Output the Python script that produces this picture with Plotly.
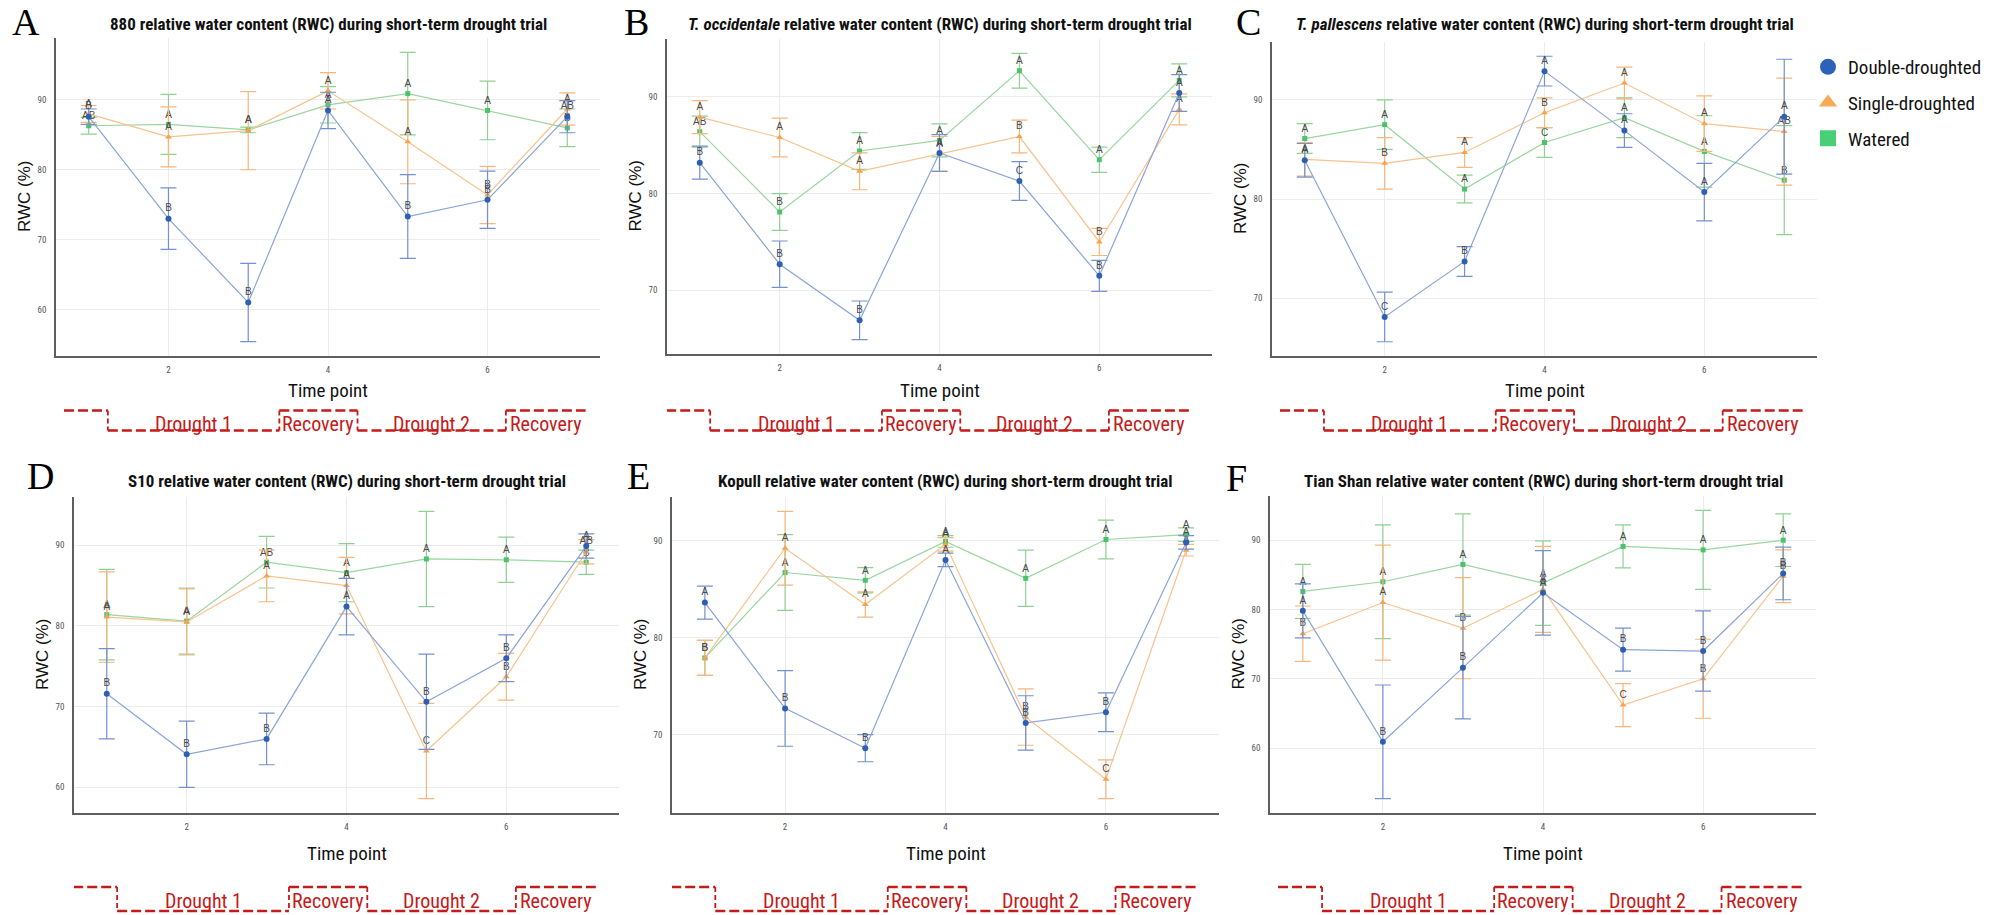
import plotly.graph_objects as go

W, H = 1993, 915

time_points = [1, 2, 3, 4, 5, 6, 7]
treatments = ["Double-droughted", "Single-droughted", "Watered"]

# ---------------- Panel A : 880 ----------------
a_double_mean = [87.6, 73.0, 61.0, 88.5, 73.3, 75.7, 87.6]
a_double_se = [1.1, 4.4, 5.6, 2.6, 6.0, 4.1, 2.3]
a_double_letters = ["B", "B", "B", "A", "B", "B", "AB"]
a_single_mean = [88.0, 84.7, 85.6, 91.3, 84.0, 76.4, 88.7]
a_single_se = [1.2, 4.3, 5.6, 2.6, 6.0, 4.1, 2.3]
a_single_letters = ["A", "A", "A", "A", "A", "B", "A"]
a_watered_mean = [86.3, 86.5, 85.7, 89.3, 90.9, 88.5, 86.0]
a_watered_se = [1.2, 4.3, 0.4, 2.6, 5.9, 4.2, 2.7]
a_watered_letters = ["AB", "A", "A", "A", "A", "A", "B"]

# ---------------- Panel B : T. occidentale ----------------
b_double_mean = [83.2, 72.7, 66.9, 84.2, 81.3, 71.5, 90.4]
b_double_se = [1.7, 2.4, 2.0, 1.9, 2.0, 1.6, 1.9]
b_double_letters = ["B", "B", "B", "A", "C", "B", "A"]
b_single_mean = [87.9, 85.8, 82.3, 84.1, 85.9, 75.0, 88.7]
b_single_se = [1.7, 2.0, 1.9, 1.8, 1.7, 1.4, 1.6]
b_single_letters = ["A", "A", "A", "A", "B", "B", "A"]
b_watered_mean = [86.4, 78.1, 84.4, 85.5, 92.7, 83.5, 91.7]
b_watered_se = [1.6, 1.9, 1.9, 1.7, 1.8, 1.3, 1.7]
b_watered_letters = ["AB", "B", "A", "A", "A", "A", "A"]

# ---------------- Panel C : T. pallescens ----------------
c_double_mean = [83.9, 68.1, 73.7, 92.9, 86.9, 80.7, 88.3]
c_double_se = [1.7, 2.5, 1.5, 1.5, 1.7, 2.9, 5.8]
c_double_letters = ["A", "C", "B", "A", "A", "A", "A"]
c_single_mean = [84.0, 83.6, 84.7, 88.7, 91.7, 87.6, 86.8]
c_single_se = [1.7, 2.6, 1.5, 1.5, 1.6, 2.8, 5.4]
c_single_letters = ["A", "B", "A", "B", "A", "A", "AB"]
c_watered_mean = [86.1, 87.5, 81.0, 85.7, 88.2, 84.8, 81.9]
c_watered_se = [1.5, 2.5, 1.4, 1.5, 2.0, 3.6, 5.5]
c_watered_letters = ["A", "A", "A", "C", "A", "A", "B"]

# ---------------- Panel D : S10 ----------------
d_double_mean = [71.6, 64.1, 66.0, 82.4, 70.6, 76.0, 89.9]
d_double_se = [5.6, 4.1, 3.2, 3.5, 5.9, 2.9, 1.5]
d_double_letters = ["B", "B", "B", "A", "B", "B", "A"]
d_single_mean = [81.1, 80.5, 86.2, 85.0, 64.5, 73.7, 89.2]
d_single_se = [5.6, 4.1, 3.2, 3.5, 5.9, 2.9, 1.5]
d_single_letters = ["A", "A", "A", "A", "C", "B", "AB"]
d_watered_mean = [81.4, 80.6, 87.9, 86.6, 88.3, 88.2, 87.9]
d_watered_se = [5.6, 4.1, 3.2, 3.6, 5.9, 2.8, 1.5]
d_watered_letters = ["A", "A", "AB", "A", "A", "A", "B"]

# ---------------- Panel E : Kopull ----------------
e_double_mean = [83.6, 72.7, 68.6, 88.0, 71.2, 72.3, 89.8]
e_double_se = [1.7, 3.9, 1.4, 0.7, 2.8, 2.0, 0.7]
e_double_letters = ["A", "B", "B", "A", "B", "B", "A"]
e_single_mean = [77.9, 89.2, 83.4, 89.6, 71.8, 65.4, 89.0]
e_single_se = [1.8, 3.8, 1.3, 0.7, 2.9, 2.0, 0.6]
e_single_letters = ["B", "A", "A", "A", "B", "C", "A"]
e_watered_mean = [77.9, 86.7, 85.9, 89.9, 86.1, 90.1, 90.6]
e_watered_se = [1.8, 3.9, 1.3, 0.6, 2.9, 2.0, 0.7]
e_watered_letters = ["B", "A", "A", "A", "A", "A", "A"]

# ---------------- Panel F : Tian Shan ----------------
f_double_mean = [79.8, 60.9, 71.6, 82.4, 74.2, 74.0, 85.2]
f_double_se = [3.9, 8.2, 7.4, 6.1, 3.1, 5.8, 3.8]
f_double_letters = ["A", "B", "B", "A", "B", "B", "B"]
f_single_mean = [76.5, 81.0, 77.3, 82.9, 66.2, 70.0, 84.8]
f_single_se = [4.0, 8.3, 7.3, 6.2, 3.1, 5.7, 3.8]
f_single_letters = ["B", "A", "B", "A", "C", "B", "B"]
f_watered_mean = [82.6, 84.0, 86.5, 83.8, 89.1, 88.6, 90.0]
f_watered_se = [3.9, 8.2, 7.3, 6.1, 3.1, 5.7, 3.8]
f_watered_letters = ["A", "A", "A", "A", "A", "A", "A"]

panel_letters = ["A", "B", "C", "D", "E", "F"]
panel_titles = [
    "880 relative water content (RWC) during short-term drought trial",
    "<i>T. occidentale</i> relative water content (RWC) during short-term drought trial",
    "<i>T. pallescens</i> relative water content (RWC) during short-term drought trial",
    "S10 relative water content (RWC) during short-term drought trial",
    "Kopull relative water content (RWC) during short-term drought trial",
    "Tian Shan relative water content (RWC) during short-term drought trial",
]
phase_labels = ["Drought 1", "Recovery", "Drought 2", "Recovery"]

panel_data = [
    [(a_double_mean, a_double_se, a_double_letters), (a_single_mean, a_single_se, a_single_letters), (a_watered_mean, a_watered_se, a_watered_letters)],
    [(b_double_mean, b_double_se, b_double_letters), (b_single_mean, b_single_se, b_single_letters), (b_watered_mean, b_watered_se, b_watered_letters)],
    [(c_double_mean, c_double_se, c_double_letters), (c_single_mean, c_single_se, c_single_letters), (c_watered_mean, c_watered_se, c_watered_letters)],
    [(d_double_mean, d_double_se, d_double_letters), (d_single_mean, d_single_se, d_single_letters), (d_watered_mean, d_watered_se, d_watered_letters)],
    [(e_double_mean, e_double_se, e_double_letters), (e_single_mean, e_single_se, e_single_letters), (e_watered_mean, e_watered_se, e_watered_letters)],
    [(f_double_mean, f_double_se, f_double_letters), (f_single_mean, f_single_se, f_single_letters), (f_watered_mean, f_watered_se, f_watered_letters)],
]

# ---------------- styles / layout (pixels) ----------------
NARROW = "Liberation Sans Narrow, Arial Narrow, Roboto Condensed, Lato, sans-serif"
SANS = "Liberation Sans, Arial, sans-serif"
SERIF = "Liberation Serif, Times New Roman, serif"

styles = [
    dict(marker="#2f5fb3", line="#8ba4d8", err="#7391cc", symbol="circle", size=6, legend="#2d62ba"),
    dict(marker="#f7a24f", line="#f9c28d", err="#f6b67c", symbol="triangle-up", size=6, legend="#f9aa55"),
    dict(marker="#4cc26a", line="#9ad69e", err="#8fd095", symbol="square", size=5, legend="#48d077"),
]

# plot boxes: left, right, top, bottom (px)
boxes = [
    (56, 600, 38, 356),
    (667, 1212, 39, 354),
    (1272, 1817, 42, 356),
    (74, 619, 497, 813),
    (672, 1219, 497, 813),
    (1270, 1816, 496, 813),
]
letter_pos = [(26, 22), (636, 22), (1248, 22), (40, 476), (638, 476), (1236, 478)]
title_y = [24, 24, 24, 481, 481, 481]
timepoint_y = [390, 390, 390, 853, 853, 853]
bracket_y = [(410.5, 430.5, 424), (410.5, 430.5, 424), (410.5, 430.5, 424),
             (887, 911, 901), (887, 911, 901), (887, 911, 901)]
bracket_base = [0.58, 1.13, 3.28, 4.26, 6.12, 7.12]
bracket_shift = [0.11, 0.0, 0.11, 0.0, 0.0, 0.11]
X_RANGE = [0.59, 7.41]
RED = "#c41a1a"


def fx(px):
    return px / W


def fy(py):
    return 1 - py / H


fig = go.Figure()
shapes = []
annotations = []
layout_axes = {}

for i in range(6):
    xa = "x" if i == 0 else f"x{i+1}"
    ya = "y" if i == 0 else f"y{i+1}"
    xkey = "xaxis" if i == 0 else f"xaxis{i+1}"
    ykey = "yaxis" if i == 0 else f"yaxis{i+1}"
    left, right, top, bottom = boxes[i]

    lo = min(m - s for series in panel_data[i] for m, s in zip(series[0], series[1]))
    hi = max(m + s for series in panel_data[i] for m, s in zip(series[0], series[1]))
    pad = 0.05 * (hi - lo)

    # draw watered first, double last (on top)
    for k in [2, 1, 0]:
        mean, se, letters = panel_data[i][k]
        st = styles[k]
        fig.add_trace(go.Scatter(
            x=time_points, y=mean, xaxis=xa, yaxis=ya,
            mode="lines+markers+text",
            text=letters, textposition="top center",
            textfont=dict(family=SANS, size=10, color="#4a4a4a"),
            line=dict(color=st["line"], width=1.2),
            marker=dict(color=st["marker"], symbol=st["symbol"], size=st["size"]),
            error_y=dict(type="data", array=se, visible=True, color=st["err"], thickness=1.2, width=8),
            showlegend=False, hoverinfo="skip", cliponaxis=False,
        ))

    common = dict(showgrid=True, gridcolor="#ececec", gridwidth=1, zeroline=False,
                  showline=True, linecolor="#5f5f5f", linewidth=1.6, ticks="",
                  tickfont=dict(family=NARROW, size=9, color="#555555"), fixedrange=True)
    layout_axes[xkey] = dict(domain=[fx(left), fx(right)], range=X_RANGE, anchor=ya,
                             tickvals=[2, 4, 6], ticklabelstandoff=4, **common)
    layout_axes[ykey] = dict(domain=[fy(bottom), fy(top)], range=[lo - pad, hi + pad], anchor=xa,
                             tickvals=[50, 60, 70, 80, 90], ticklabelstandoff=6, **common)

    cx = (left + right) / 2
    cy = (top + bottom) / 2
    # panel letter
    annotations.append(dict(text=panel_letters[i], x=fx(letter_pos[i][0]), y=fy(letter_pos[i][1]),
                            xref="paper", yref="paper", showarrow=False, xanchor="center", yanchor="middle",
                            font=dict(family=SERIF, size=38, color="#000000")))
    # title
    annotations.append(dict(text="<b>" + panel_titles[i] + "</b>", x=fx(cx), y=fy(title_y[i]),
                            xref="paper", yref="paper", showarrow=False, xanchor="center", yanchor="middle",
                            font=dict(family=NARROW, size=17, color="#111111")))
    # y title
    annotations.append(dict(text="RWC (%)", x=fx(left - 32), y=fy(cy), textangle=-90,
                            xref="paper", yref="paper", showarrow=False, xanchor="center", yanchor="middle",
                            font=dict(family=SANS, size=17, color="#111111")))
    # x title
    annotations.append(dict(text="Time point", x=fx(cx), y=fy(timepoint_y[i]),
                            xref="paper", yref="paper", showarrow=False, xanchor="center", yanchor="middle",
                            font=dict(family=NARROW, size=19, color="#111111")))

    # phase bracket
    ytop, ybot, ytxt = bracket_y[i]
    bx = [v + bracket_shift[i] for v in bracket_base]
    levels = [ytop, ybot, ytop, ybot, ytop]
    for s in range(5):
        shapes.append(dict(type="line", xref=xa, yref="paper", x0=bx[s], x1=bx[s + 1],
                           y0=fy(levels[s]), y1=fy(levels[s]),
                           line=dict(color=RED, width=2.6, dash="10px,4px")))
    for s in range(1, 5):
        shapes.append(dict(type="line", xref=xa, yref="paper", x0=bx[s], x1=bx[s],
                           y0=fy(ytop), y1=fy(ybot), line=dict(color=RED, width=1.8, dash="5px,3px")))
    for s in range(4):
        annotations.append(dict(text=phase_labels[s], x=(bx[s + 1] + bx[s + 2]) / 2, y=fy(ytxt),
                                xref=xa, yref="paper", showarrow=False, xanchor="center", yanchor="middle",
                                font=dict(family=NARROW, size=20, color=RED)))

# legend traces
for k in range(3):
    st = styles[k]
    fig.add_trace(go.Scatter(
        x=[None], y=[None], mode="markers", name=treatments[k], legendgroup=treatments[k],
        marker=dict(color=st["legend"], symbol=st["symbol"], size=20), showlegend=True,
    ))

fig.update_layout(
    width=W, height=H, margin=dict(l=0, r=0, t=0, b=0),
    paper_bgcolor="white", plot_bgcolor="white",
    shapes=shapes, annotations=annotations,
    showlegend=True,
    legend=dict(x=fx(1808), y=fy(48), xanchor="left", yanchor="top",
                font=dict(family=NARROW, size=19, color="#111111"),
                bgcolor="rgba(0,0,0,0)", tracegroupgap=8, itemsizing="trace"),
    **layout_axes,
)

fig.write_html("out.html")
